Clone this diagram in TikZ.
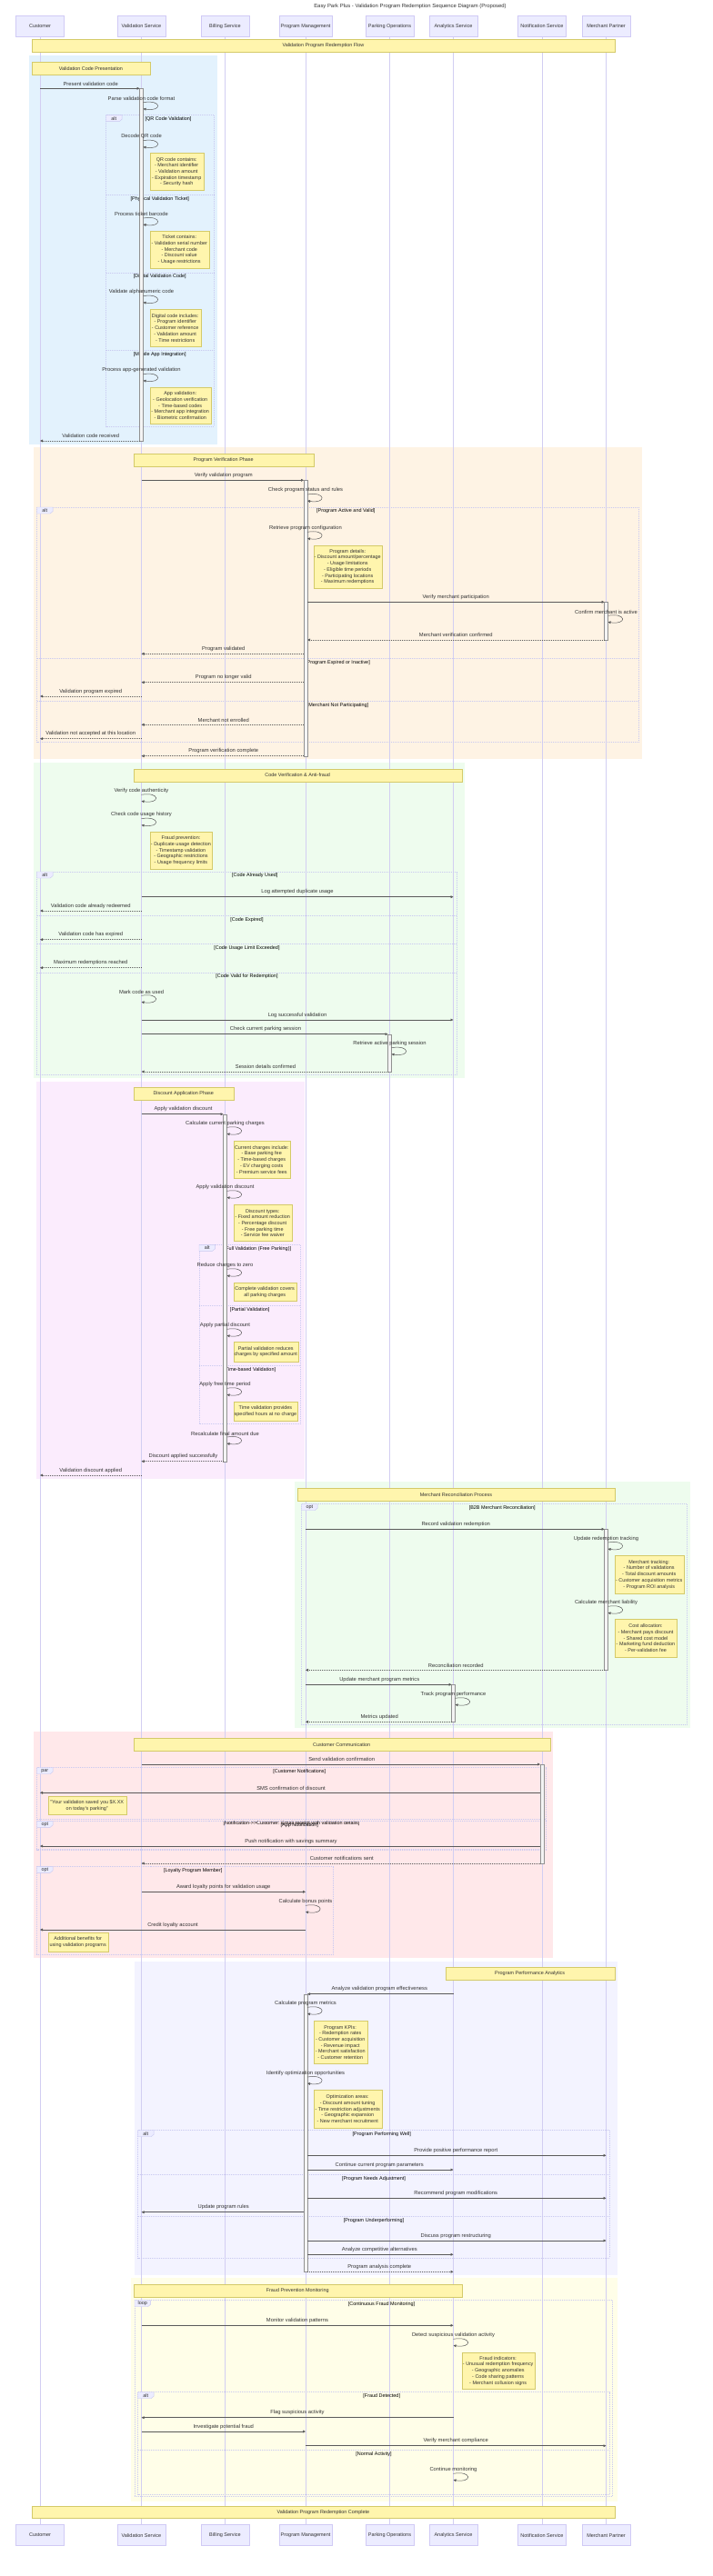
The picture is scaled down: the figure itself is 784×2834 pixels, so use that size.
\documentclass[tikz,border=0pt]{standalone}
\usepackage{fontspec}
\setmainfont{Liberation Sans}
\usetikzlibrary{arrows.meta}

\definecolor{ink}{HTML}{333333}
\definecolor{msgln}{HTML}{5A5A5A}
\definecolor{lifeln}{RGB}{210,206,242}
\definecolor{actorfill}{RGB}{236,236,255}
\definecolor{actorbd}{RGB}{208,202,245}
\definecolor{notefill}{RGB}{255,245,173}
\definecolor{notebd}{RGB}{212,202,105}
\definecolor{fragln}{RGB}{200,200,240}
\definecolor{barfill}{RGB}{244,244,244}
\definecolor{bardraw}{RGB}{145,145,145}
\definecolor{rblue}{RGB}{227,242,253}
\definecolor{rorange}{RGB}{254,243,228}
\definecolor{rgreen}{RGB}{238,252,238}
\definecolor{rpink}{RGB}{251,236,253}
\definecolor{rred}{RGB}{255,232,234}
\definecolor{rlav}{RGB}{243,243,255}
\definecolor{ryellow}{RGB}{255,254,232}

\newcommand{\ftitle}{\fontsize{5.9}{7}\selectfont}
\newcommand{\fmsg}{\fontsize{5.8}{7}\selectfont}
\newcommand{\fnote}{\fontsize{5.45}{6.7}\selectfont}
\newcommand{\factorfont}{\fontsize{5.5}{6.6}\selectfont}

\begin{document}
\begin{tikzpicture}[x=1pt, y=-1pt,
    >={Triangle[length=3pt,width=2.8pt]},
    actor/.style={draw=actorbd, fill=actorfill, line width=0.5pt, minimum width=53pt,
                  minimum height=23.4pt, inner sep=0pt, font=\factorfont, text=ink},
    life/.style={draw=lifeln, line width=0.5pt},
    fragbox/.style={draw=fragln, line width=0.5pt, dash pattern=on 1pt off 1pt},
    tagbox/.style={draw=fragln, fill=actorfill, line width=0.4pt},
    tagtxt/.style={font=\fnote, text=ink, inner sep=0pt},
    sect/.style={font=\fnote, text=black, inner sep=0pt},
    note/.style={draw=notebd, fill=notefill, line width=0.4pt, font=\fnote, text=ink,
                 align=center, inner sep=0pt, anchor=north west},
    actbar/.style={draw=bardraw, fill=barfill, line width=0.35pt},
    msg/.style={draw=msgln, line width=0.5pt, ->},
    reply/.style={msg, dash pattern=on 1pt off 1pt},
    self/.style={to path={.. controls +(21,-3.5) and +(21,3.5) .. (\tikztotarget)}},
    mlbl/.style={midway, yshift=5.3pt, font=\fmsg, text=ink, inner sep=0pt},
    slbl/.style={font=\fmsg, text=ink, inner sep=0pt}]

    \useasboundingbox (0,0) rectangle (784,2834);

    % Background regions
    \fill[rblue]   (31.5,61)    rectangle (239,488.7);
    \fill[rorange] (36.5,492.3) rectangle (705.5,835);
    \fill[rgreen]  (36.5,839)   rectangle (510.5,1185.7);
    \fill[rpink]   (40,1190)    rectangle (334.5,1626.7);
    \fill[rgreen]  (324,1630.3) rectangle (758.5,1901.3);
    \fill[rred]    (36.5,1905.3) rectangle (608,2153.7);
    \fill[rlav]    (148,2157.7) rectangle (678.5,2502.7);
    \fill[ryellow] (144,2506)   rectangle (678.5,2751.7);

    % Title and participants
    \node[font=\ftitle, text=ink] (title) at (451,6.7)
        {Easy Park Plus - Validation Program Redemption Sequence Diagram (Proposed)};

    \node[actor]                    (cu) at (44,29)    {Customer};
    \node[actor]                    (vs) at (155.5,29) {Validation Service};
    \node[actor]                    (bs) at (247.5,29) {Billing Service};
    \node[actor, minimum width=58pt] (pm) at (336,29)  {Program Management};
    \node[actor]                    (po) at (428.5,29) {Parking Operations};
    \node[actor]                    (as) at (498.5,29) {Analytics Service};
    \node[actor]                    (ns) at (596,29)   {Notification Service};
    \node[actor]                    (mp) at (666.5,29) {Merchant Partner};

    \node[actor]                    (cub) at (44,2789)    {Customer};
    \node[actor]                    (vsb) at (155.5,2789) {Validation Service};
    \node[actor]                    (bsb) at (247.5,2789) {Billing Service};
    \node[actor, minimum width=58pt] (pmb) at (336,2789)  {Program Management};
    \node[actor]                    (pob) at (428.5,2789) {Parking Operations};
    \node[actor]                    (asb) at (498.5,2789) {Analytics Service};
    \node[actor]                    (nsb) at (596,2789)   {Notification Service};
    \node[actor]                    (mpb) at (666.5,2789) {Merchant Partner};

    % Lifelines
    \draw[life] (cu) -- (cub);
    \draw[life] (vs) -- (vsb);
    \draw[life] (bs) -- (bsb);
    \draw[life] (pm) -- (pmb);
    \draw[life] (po) -- (pob);
    \draw[life] (as) -- (asb);
    \draw[life] (ns) -- (nsb);
    \draw[life] (mp) -- (mpb);

    % Fragments
    \draw[fragbox] (116.5,126.7) rectangle (235,469.3);
    \draw[tagbox] (116.5,126.7) -- ++(17.6,0) -- ++(0,4.5) -- ++(-3,2.5) -- ++(-14.6,0) -- cycle;
    \node[tagtxt] (f1t) at (125.3,130.4) {alt};
    \node[sect] (f1a) at (185,131) {[QR Code Validation]};
    \draw[fragbox] (116.5,214.3) -- (235,214.3);
    \node[sect] (f1b) at (175.75,218.8) {[Physical Validation Ticket]};
    \draw[fragbox] (116.5,300) -- (235,300);
    \node[sect] (f1c) at (175.75,304.5) {[Digital Validation Code]};
    \draw[fragbox] (116.5,385.7) -- (235,385.7);
    \node[sect] (f1d) at (175.75,390.2) {[Mobile App Integration]};

    \draw[fragbox] (40.5,558) rectangle (702.5,816.3);
    \draw[tagbox] (40.5,558) -- ++(17.6,0) -- ++(0,4.5) -- ++(-3,2.5) -- ++(-14.6,0) -- cycle;
    \node[tagtxt] (f2t) at (49.3,561.7) {alt};
    \node[sect] (f2a) at (380.25,562.3) {[Program Active and Valid]};
    \draw[fragbox] (40.5,724.3) -- (702.5,724.3);
    \node[sect] (f2b) at (371.5,728.8) {[Program Expired or Inactive]};
    \draw[fragbox] (40.5,771.3) -- (702.5,771.3);
    \node[sect] (f2c) at (371.5,775.8) {[Merchant Not Participating]};

    \draw[fragbox] (40.5,959) rectangle (502.5,1182);
    \draw[tagbox] (40.5,959) -- ++(17.6,0) -- ++(0,4.5) -- ++(-3,2.5) -- ++(-14.6,0) -- cycle;
    \node[tagtxt] (f3t) at (49.3,962.7) {alt};
    \node[sect] (f3a) at (280.25,963.3) {[Code Already Used]};
    \draw[fragbox] (40.5,1007.3) -- (502.5,1007.3);
    \node[sect] (f3b) at (271.5,1011.8) {[Code Expired]};
    \draw[fragbox] (40.5,1038.7) -- (502.5,1038.7);
    \node[sect] (f3c) at (271.5,1043.2) {[Code Usage Limit Exceeded]};
    \draw[fragbox] (40.5,1070) -- (502.5,1070);
    \node[sect] (f3d) at (271.5,1074.5) {[Code Valid for Redemption]};

    \draw[fragbox] (219,1369.3) rectangle (330.5,1566.3);
    \draw[tagbox] (219,1369.3) -- ++(17.6,0) -- ++(0,4.5) -- ++(-3,2.5) -- ++(-14.6,0) -- cycle;
    \node[tagtxt] (f4t) at (227.8,1373) {alt};
    \node[sect] (f4a) at (283.5,1373.6) {[Full Validation (Free Parking)]};
    \draw[fragbox] (219,1436.7) -- (330.5,1436.7);
    \node[sect] (f4b) at (274.75,1441.2) {[Partial Validation]};
    \draw[fragbox] (219,1502.3) -- (330.5,1502.3);
    \node[sect] (f4c) at (274.75,1506.8) {[Time-based Validation]};

    \draw[fragbox] (331.5,1654.7) rectangle (755,1897.7);
    \draw[tagbox] (331.5,1654.7) -- ++(17.6,0) -- ++(0,4.5) -- ++(-3,2.5) -- ++(-14.6,0) -- cycle;
    \node[tagtxt] (f5t) at (340.3,1658.4) {opt};
    \node[sect] (f5a) at (552.25,1659) {[B2B Merchant Reconciliation]};

    \draw[fragbox] (40.5,1944.7) rectangle (600.5,2035);
    \draw[tagbox] (40.5,1944.7) -- ++(17.6,0) -- ++(0,4.5) -- ++(-3,2.5) -- ++(-14.6,0) -- cycle;
    \node[tagtxt] (f6t) at (49.3,1948.4) {par};
    \node[sect] (f6a) at (329.25,1949) {[Customer Notifications]};
    \draw[fragbox] (40.5,2001.3) -- (600.5,2001.3);
    \node[sect] (f6b) at (320.5,2005.8) {[Notification-{}>{}>Customer: Email receipt with validation details]};

    \draw[fragbox] (40.5,2003.3) rectangle (600.5,2034.3);
    \draw[tagbox] (40.5,2003.3) -- ++(17.6,0) -- ++(0,4.5) -- ++(-3,2.5) -- ++(-14.6,0) -- cycle;
    \node[tagtxt] (f7t) at (49.3,2007) {opt};
    \node[sect] (f7a) at (329.25,2007.6) {[App Notification]};

    \draw[fragbox] (40.5,2053.3) rectangle (366.5,2150.3);
    \draw[tagbox] (40.5,2053.3) -- ++(17.6,0) -- ++(0,4.5) -- ++(-3,2.5) -- ++(-14.6,0) -- cycle;
    \node[tagtxt] (f8t) at (49.3,2057) {opt};
    \node[sect] (f8a) at (212.25,2057.6) {[Loyalty Program Member]};

    \draw[fragbox] (151.5,2343.7) rectangle (670.5,2484);
    \draw[tagbox] (151.5,2343.7) -- ++(17.6,0) -- ++(0,4.5) -- ++(-3,2.5) -- ++(-14.6,0) -- cycle;
    \node[tagtxt] (f9t) at (160.3,2347.4) {alt};
    \node[sect] (f9a) at (419.75,2348) {[Program Performing Well]};
    \draw[fragbox] (151.5,2392.3) -- (670.5,2392.3);
    \node[sect] (f9b) at (411,2396.8) {[Program Needs Adjustment]};
    \draw[fragbox] (151.5,2438.3) -- (670.5,2438.3);
    \node[sect] (f9c) at (411,2442.8) {[Program Underperforming]};

    \draw[fragbox] (148,2530.7) rectangle (673.5,2746.7);
    \draw[tagbox] (148,2530.7) -- ++(17.6,0) -- ++(0,4.5) -- ++(-3,2.5) -- ++(-14.6,0) -- cycle;
    \node[tagtxt] (f10t) at (156.8,2534.4) {loop};
    \node[sect] (f10a) at (419.5,2535) {[Continuous Fraud Monitoring]};

    \draw[fragbox] (151.5,2631.7) rectangle (670.5,2744.3);
    \draw[tagbox] (151.5,2631.7) -- ++(17.6,0) -- ++(0,4.5) -- ++(-3,2.5) -- ++(-14.6,0) -- cycle;
    \node[tagtxt] (f11t) at (160.3,2635.4) {alt};
    \node[sect] (f11a) at (419.75,2636) {[Fraud Detected]};
    \draw[fragbox] (151.5,2695.3) -- (670.5,2695.3);
    \node[sect] (f11b) at (411,2699.8) {[Normal Activity]};

    % Notes
    \node[note, minimum width=640.5pt, minimum height=14pt] (n1) at (35,43.3) {Validation Program Redemption Flow};
    \node[note, minimum width=129.5pt, minimum height=13.4pt] (n2) at (35,68.3) {Validation Code Presentation};
    \node[note, minimum width=59pt, minimum height=41pt] (n3) at (164.5,168.3)
        {QR code contains:\\- Merchant identifier\\- Validation amount\\- Expiration timestamp\\- Security hash};
    \node[note, minimum width=65pt, minimum height=40.7pt] (n4) at (164.5,254.3)
        {Ticket contains:\\- Validation serial number\\- Merchant code\\- Discount value\\- Usage restrictions};
    \node[note, minimum width=56pt, minimum height=40.4pt] (n5) at (164.5,340.3)
        {Digital code includes:\\- Program identifier\\- Customer reference\\- Validation amount\\- Time restrictions};
    \node[note, minimum width=67pt, minimum height=40.6pt] (n6) at (164.5,425.7)
        {App validation:\\- Geolocation verification\\- Time-based codes\\- Merchant app integration\\- Biometric confirmation};
    \node[note, minimum width=198pt, minimum height=14pt] (n7) at (146.5,499.3) {Program Verification Phase};
    \node[note, minimum width=75pt, minimum height=47.3pt] (n8) at (344.5,599.7)
        {Program details:\\- Discount amount/percentage\\- Usage limitations\\- Eligible time periods\\- Participating locations\\- Maximum redemptions};
    \node[note, minimum width=361pt, minimum height=14pt] (n9) at (146.5,845.7) {Code Verification \& Anti-fraud};
    \node[note, minimum width=68.5pt, minimum height=40.4pt] (n10) at (164.5,915.3)
        {Fraud prevention:\\- Duplicate usage detection\\- Timestamp validation\\- Geographic restrictions\\- Usage frequency limits};
    \node[note, minimum width=110pt, minimum height=14pt] (n11) at (146.5,1196.3) {Discount Application Phase};
    \node[note, minimum width=62pt, minimum height=40.4pt] (n12) at (256.5,1255.3)
        {Current charges include:\\- Base parking fee\\- Time-based charges\\- EV charging costs\\- Premium service fees};
    \node[note, minimum width=64pt, minimum height=40pt] (n13) at (256.5,1325.3)
        {Discount types:\\- Fixed amount reduction\\- Percentage discount\\- Free parking time\\- Service fee waiver};
    \node[note, minimum width=69pt, minimum height=20pt] (n14) at (256.5,1411.3)
        {Complete validation covers\\all parking charges};
    \node[note, minimum width=71pt, minimum height=21.4pt] (n15) at (256.5,1476.3)
        {Partial validation reduces\\charges by specified amount};
    \node[note, minimum width=70.5pt, minimum height=20.4pt] (n16) at (256.5,1542.3)
        {Time validation provides\\specified hours at no charge};
    \node[note, minimum width=348.5pt, minimum height=14pt] (n17) at (327,1637.3) {Merchant Reconciliation Process};
    \node[note, minimum width=76pt, minimum height=41.4pt] (n18) at (675.5,1711.3)
        {Merchant tracking:\\- Number of validations\\- Total discount amounts\\- Customer acquisition metrics\\- Program ROI analysis};
    \node[note, minimum width=68.5pt, minimum height=41.4pt] (n19) at (675.5,1781.3)
        {Cost allocation:\\- Merchant pays discount\\- Shared cost model\\- Marketing fund deduction\\- Per-validation fee};
    \node[note, minimum width=458pt, minimum height=13.4pt] (n20) at (146.5,1912.3) {Customer Communication};
    \node[note, minimum width=86pt, minimum height=20pt] (n21) at (52.5,1976.3)
        {"Your validation saved you \$X.XX\\on today's parking"};
    \node[note, minimum width=66pt, minimum height=20.7pt] (n22) at (52.5,2126.3)
        {Additional benefits for\\using validation programs};
    \node[note, minimum width=186pt, minimum height=14pt] (n23) at (489.5,2164.3) {Program Performance Analytics};
    \node[note, minimum width=59pt, minimum height=47pt] (n24) at (344.5,2223.3)
        {Program KPIs:\\- Redemption rates\\- Customer acquisition\\- Revenue impact\\- Merchant satisfaction\\- Customer retention};
    \node[note, minimum width=75pt, minimum height=41.4pt] (n25) at (344.5,2299.3)
        {Optimization areas:\\- Discount amount tuning\\- Time restriction adjustments\\- Geographic expansion\\- New merchant recruitment};
    \node[note, minimum width=361pt, minimum height=14pt] (n26) at (146.5,2513.3) {Fraud Prevention Monitoring};
    \node[note, minimum width=80pt, minimum height=40.6pt] (n27) at (507.5,2587.7)
        {Fraud indicators:\\- Unusual redemption frequency\\- Geographic anomalies\\- Code sharing patterns\\- Merchant collusion signs};
    \node[note, minimum width=640.5pt, minimum height=13pt] (n28) at (35,2757.3) {Validation Program Redemption Complete};

    % Activation bars
    \draw[actbar] ([xshift=-2pt]vs |- 0,97.3)   rectangle ([xshift=2pt]vs |- 0,485);
    \draw[actbar] ([xshift=-2pt]pm |- 0,528.3)  rectangle ([xshift=2pt]pm |- 0,831.7);
    \draw[actbar] ([xshift=-2pt]mp |- 0,662.3)  rectangle ([xshift=2pt]mp |- 0,704);
    \draw[actbar] ([xshift=-2pt]po |- 0,1137.7) rectangle ([xshift=2pt]po |- 0,1179);
    \draw[actbar] ([xshift=-2pt]bs |- 0,1225.7) rectangle ([xshift=2pt]bs |- 0,1607.7);
    \draw[actbar] ([xshift=-2pt]mp |- 0,1682.3) rectangle ([xshift=2pt]mp |- 0,1837.3);
    \draw[actbar] ([xshift=-2pt]as |- 0,1853.3) rectangle ([xshift=2pt]as |- 0,1894.3);
    \draw[actbar] ([xshift=-2pt]ns |- 0,1941)   rectangle ([xshift=2pt]ns |- 0,2050);
    \draw[actbar] ([xshift=-2pt]pm |- 0,2193.7) rectangle ([xshift=2pt]pm |- 0,2499.3);

    % Code presentation
    \draw[msg, shorten >=2pt] (cu |- 0,97.3) -- node[mlbl] (m1) {Present validation code} (vs |- 0,97.3);
    \node[slbl] (s1) at (vs |- 0,108) {Parse validation code format};
    \draw[msg] (vs |- 0,112.7) ++(2,0) to[self] ++(0,7);
    \node[slbl] (s2) at (vs |- 0,150) {Decode QR code};
    \draw[msg] (vs |- 0,154.7) ++(2,0) to[self] ++(0,7);
    \node[slbl] (s3) at (vs |- 0,235) {Process ticket barcode};
    \draw[msg] (vs |- 0,240) ++(2,0) to[self] ++(0,7);
    \node[slbl] (s4) at (vs |- 0,321) {Validate alphanumeric code};
    \draw[msg] (vs |- 0,325.7) ++(2,0) to[self] ++(0,7);
    \node[slbl] (s5) at (vs |- 0,407) {Process app-generated validation};
    \draw[msg] (vs |- 0,411.7) ++(2,0) to[self] ++(0,7);
    \draw[reply, shorten <=2pt] (vs |- 0,485) -- node[mlbl] (m2) {Validation code received} (cu |- 0,485);

    % Program verification
    \draw[msg, shorten >=2pt] (vs |- 0,528.3) -- node[mlbl] (m3) {Verify validation program} (pm |- 0,528.3);
    \node[slbl] (s6) at (pm |- 0,539) {Check program status and rules};
    \draw[msg] (pm |- 0,544) ++(2,0) to[self] ++(0,7);
    \node[slbl] (s7) at (pm |- 0,581) {Retrieve program configuration};
    \draw[msg] (pm |- 0,585.3) ++(2,0) to[self] ++(0,7);
    \draw[msg, shorten <=2pt, shorten >=2pt] (pm |- 0,662.3) -- node[mlbl] (m4) {Verify merchant participation} (mp |- 0,662.3);
    \node[slbl] (s8) at (mp |- 0,673) {Confirm merchant is active};
    \draw[msg] (mp |- 0,677.3) ++(2,0) to[self] ++(0,7);
    \draw[reply, shorten <=2pt, shorten >=2pt] (mp |- 0,704) -- node[mlbl] (m5) {Merchant verification confirmed} (pm |- 0,704);
    \draw[reply, shorten <=2pt] (pm |- 0,719.3) -- node[mlbl] (m6) {Program validated} (vs |- 0,719.3);
    \draw[reply, shorten <=2pt] (pm |- 0,750.7) -- node[mlbl] (m7) {Program no longer valid} (vs |- 0,750.7);
    \draw[reply] (vs |- 0,766) -- node[mlbl] (m8) {Validation program expired} (cu |- 0,766);
    \draw[reply, shorten <=2pt] (pm |- 0,797.3) -- node[mlbl] (m9) {Merchant not enrolled} (vs |- 0,797.3);
    \draw[reply] (vs |- 0,812.7) -- node[mlbl] (m10) {Validation not accepted at this location} (cu |- 0,812.7);
    \draw[reply, shorten <=2pt] (pm |- 0,831.7) -- node[mlbl] (m11) {Program verification complete} (vs |- 0,831.7);

    % Code verification and anti-fraud
    \node[slbl] (s9) at (vs |- 0,870) {Verify code authenticity};
    \draw[msg] (vs |- 0,874.3) to[self] ++(0,7);
    \node[slbl] (s10) at (vs |- 0,896) {Check code usage history};
    \draw[msg] (vs |- 0,900.7) to[self] ++(0,7);
    \draw[msg] (vs |- 0,986.7) -- node[mlbl] (m12) {Log attempted duplicate usage} (as |- 0,986.7);
    \draw[reply] (vs |- 0,1002) -- node[mlbl] (m13) {Validation code already redeemed} (cu |- 0,1002);
    \draw[reply] (vs |- 0,1033.7) -- node[mlbl] (m14) {Validation code has expired} (cu |- 0,1033.7);
    \draw[reply] (vs |- 0,1064.7) -- node[mlbl] (m15) {Maximum redemptions reached} (cu |- 0,1064.7);
    \node[slbl] (s11) at (vs |- 0,1091) {Mark code as used};
    \draw[msg] (vs |- 0,1095.3) to[self] ++(0,7);
    \draw[msg] (vs |- 0,1122) -- node[mlbl] (m16) {Log successful validation} (as |- 0,1122);
    \draw[msg, shorten >=2pt] (vs |- 0,1137.7) -- node[mlbl] (m17) {Check current parking session} (po |- 0,1137.7);
    \node[slbl] (s12) at (po |- 0,1148) {Retrieve active parking session};
    \draw[msg] (po |- 0,1152.7) ++(2,0) to[self] ++(0,7);
    \draw[reply, shorten <=2pt] (po |- 0,1179) -- node[mlbl] (m18) {Session details confirmed} (vs |- 0,1179);

    % Discount application
    \draw[msg, shorten >=2pt] (vs |- 0,1225.7) -- node[mlbl] (m19) {Apply validation discount} (bs |- 0,1225.7);
    \node[slbl] (s13) at (bs |- 0,1236) {Calculate current parking charges};
    \draw[msg] (bs |- 0,1240.3) ++(2,0) to[self] ++(0,7);
    \node[slbl] (s14) at (bs |- 0,1306) {Apply validation discount};
    \draw[msg] (bs |- 0,1310.3) ++(2,0) to[self] ++(0,7);
    \node[slbl] (s15) at (bs |- 0,1392) {Reduce charges to zero};
    \draw[msg] (bs |- 0,1396.3) ++(2,0) to[self] ++(0,7);
    \node[slbl] (s16) at (bs |- 0,1458) {Apply partial discount};
    \draw[msg] (bs |- 0,1462.3) ++(2,0) to[self] ++(0,7);
    \node[slbl] (s17) at (bs |- 0,1523) {Apply free time period};
    \draw[msg] (bs |- 0,1527.3) ++(2,0) to[self] ++(0,7);
    \node[slbl] (s18) at (bs |- 0,1577) {Recalculate final amount due};
    \draw[msg] (bs |- 0,1581) ++(2,0) to[self] ++(0,7);
    \draw[reply, shorten <=2pt] (bs |- 0,1607.7) -- node[mlbl] (m20) {Discount applied successfully} (vs |- 0,1607.7);
    \draw[reply] (vs |- 0,1623) -- node[mlbl] (m21) {Validation discount applied} (cu |- 0,1623);

    % Merchant reconciliation
    \draw[msg, shorten >=2pt] (pm |- 0,1682.3) -- node[mlbl] (m22) {Record validation redemption} (mp |- 0,1682.3);
    \node[slbl] (s19) at (mp |- 0,1693) {Update redemption tracking};
    \draw[msg] (mp |- 0,1697) ++(2,0) to[self] ++(0,7);
    \node[slbl] (s20) at (mp |- 0,1763) {Calculate merchant liability};
    \draw[msg] (mp |- 0,1767.3) ++(2,0) to[self] ++(0,7);
    \draw[reply, shorten <=2pt] (mp |- 0,1837.3) -- node[mlbl] (m23) {Reconciliation recorded} (pm |- 0,1837.3);
    \draw[msg, shorten >=2pt] (pm |- 0,1853.3) -- node[mlbl] (m24) {Update merchant program metrics} (as |- 0,1853.3);
    \node[slbl] (s21) at (as |- 0,1864) {Track program performance};
    \draw[msg] (as |- 0,1868.3) ++(2,0) to[self] ++(0,7);
    \draw[reply, shorten <=2pt] (as |- 0,1894.3) -- node[mlbl] (m25) {Metrics updated} (pm |- 0,1894.3);

    % Customer communication
    \draw[msg, shorten >=2pt] (vs |- 0,1941) -- node[mlbl] (m26) {Send validation confirmation} (ns |- 0,1941);
    \draw[msg, shorten <=2pt] (ns |- 0,1972.3) -- node[mlbl] (m27) {SMS confirmation of discount} (cu |- 0,1972.3);
    \draw[msg, shorten <=2pt] (ns |- 0,2031) -- node[mlbl] (m28) {Push notification with savings summary} (cu |- 0,2031);
    \draw[reply, shorten <=2pt] (ns |- 0,2050) -- node[mlbl] (m29) {Customer notifications sent} (vs |- 0,2050);
    \draw[msg] (vs |- 0,2081.3) -- node[mlbl] (m30) {Award loyalty points for validation usage} (pm |- 0,2081.3);
    \node[slbl] (s22) at (pm |- 0,2092) {Calculate bonus points};
    \draw[msg] (pm |- 0,2096.3) to[self] ++(0,7);
    \draw[msg] (pm |- 0,2123) -- node[mlbl] (m31) {Credit loyalty account} (cu |- 0,2123);

    % Program performance analytics
    \draw[msg, shorten >=2pt] (as |- 0,2193.7) -- node[mlbl] (m32) {Analyze validation program effectiveness} (pm |- 0,2193.7);
    \node[slbl] (s23) at (pm |- 0,2204) {Calculate program metrics};
    \draw[msg] (pm |- 0,2208.3) ++(2,0) to[self] ++(0,7);
    \node[slbl] (s24) at (pm |- 0,2281) {Identify optimization opportunities};
    \draw[msg] (pm |- 0,2285) ++(2,0) to[self] ++(0,7);
    \draw[msg, shorten <=2pt] (pm |- 0,2371.3) -- node[mlbl] (m33) {Provide positive performance report} (mp |- 0,2371.3);
    \draw[msg, shorten <=2pt] (pm |- 0,2387) -- node[mlbl] (m34) {Continue current program parameters} (as |- 0,2387);
    \draw[msg, shorten <=2pt] (pm |- 0,2418.3) -- node[mlbl] (m35) {Recommend program modifications} (mp |- 0,2418.3);
    \draw[msg, shorten <=2pt] (pm |- 0,2433.7) -- node[mlbl] (m36) {Update program rules} (vs |- 0,2433.7);
    \draw[msg, shorten <=2pt] (pm |- 0,2465) -- node[mlbl] (m37) {Discuss program restructuring} (mp |- 0,2465);
    \draw[msg, shorten <=2pt] (pm |- 0,2480.3) -- node[mlbl] (m38) {Analyze competitive alternatives} (as |- 0,2480.3);
    \draw[reply, shorten <=2pt] (pm |- 0,2499.3) -- node[mlbl] (m39) {Program analysis complete} (as |- 0,2499.3);

    % Fraud prevention monitoring
    \draw[msg] (vs |- 0,2558.3) -- node[mlbl] (m40) {Monitor validation patterns} (as |- 0,2558.3);
    \node[slbl] (s25) at (as |- 0,2569) {Detect suspicious validation activity};
    \draw[msg] (as |- 0,2573.3) to[self] ++(0,7);
    \draw[msg] (as |- 0,2659.7) -- node[mlbl] (m41) {Flag suspicious activity} (vs |- 0,2659.7);
    \draw[msg] (vs |- 0,2675) -- node[mlbl] (m42) {Investigate potential fraud} (pm |- 0,2675);
    \draw[msg] (pm |- 0,2690.7) -- node[mlbl] (m43) {Verify merchant compliance} (mp |- 0,2690.7);
    \node[slbl] (s26) at (as |- 0,2717) {Continue monitoring};
    \draw[msg] (as |- 0,2721.3) to[self] ++(0,7);
\end{tikzpicture}
\end{document}
